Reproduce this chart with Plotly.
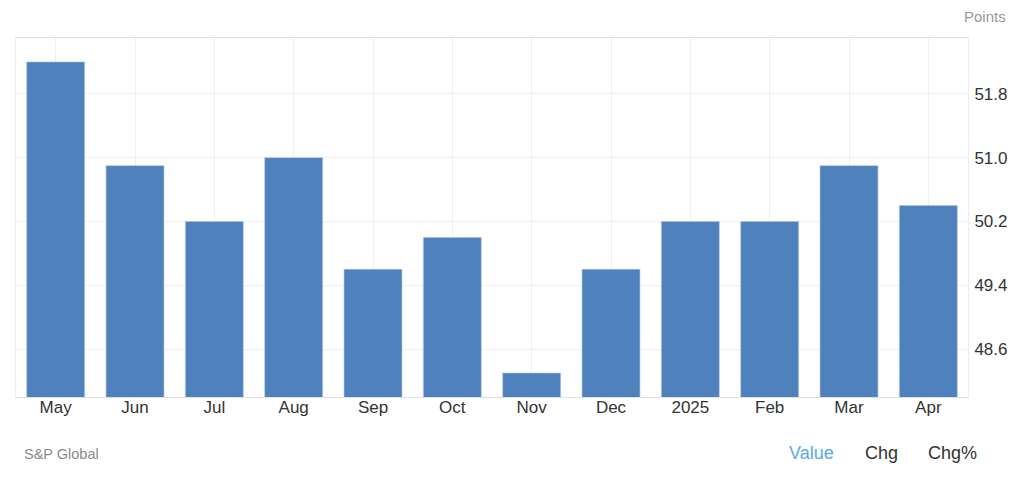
import plotly.graph_objects as go

categories = ["May", "Jun", "Jul", "Aug", "Sep", "Oct", "Nov", "Dec", "2025", "Feb", "Mar", "Apr"]
values = [52.2, 50.9, 50.2, 51.0, 49.6, 50.0, 48.3, 49.6, 50.2, 50.2, 50.9, 50.4]
y_ticks = [48.6, 49.4, 50.2, 51.0, 51.8]
y_range = [48.0, 52.5]

# page has an 8px body margin; figure origin sits at (8, 8)
OFF = 8
W, H = 1024 - OFF, 482 - OFF
L, R, T, B = 16 - OFF, 56, 38 - OFF, 85
pw, ph = W - L - R, H - T - B

def px(x):
    return (x - OFF - L) / pw

def py(y):
    return (H - B - (y - OFF)) / ph

fig = go.Figure()
fig.add_trace(go.Bar(
    x=categories, y=values,
    marker=dict(color="#4f81bd", line=dict(color="#a9c4e6", width=0.6)),
    hoverinfo="x+y",
))

fig.update_layout(
    width=W, height=H,
    margin=dict(l=L, r=R, t=T, b=B),
    paper_bgcolor="white", plot_bgcolor="white",
    bargap=0.27,
    showlegend=False,
    font=dict(family="Liberation Sans, Arial, sans-serif", color="#333333"),
    xaxis=dict(
        type="category",
        showgrid=True, gridcolor="#f0f0f0", gridwidth=1,
        showline=True, linecolor="#e0e0e0", linewidth=1, mirror=True,
        ticks="", ticklen=0, tickfont=dict(size=17, color="#333333"),
        ticklabelstandoff=-5,
    ),
    yaxis=dict(
        side="right",
        range=y_range,
        tickvals=y_ticks,
        ticktext=[f"{v:.1f}" for v in y_ticks],
        showgrid=True, gridcolor="#f0f0f0", gridwidth=1,
        showline=True, linecolor="#eeeeee", linewidth=1, mirror=True,
        zeroline=False,
        ticks="", ticklen=0, tickfont=dict(size=17, color="#333333"),
        ticklabelstandoff=2,
    ),
    annotations=[
        dict(text="Points", xref="paper", yref="paper", x=px(1008), y=py(16),
             xanchor="right", yanchor="middle", showarrow=False,
             font=dict(size=15, color="#999999")),
        dict(text="S&P Global", xref="paper", yref="paper", x=px(22), y=py(454),
             xanchor="left", yanchor="middle", showarrow=False,
             font=dict(size=14.5, color="#8a8a8a")),
        dict(text="Value", xref="paper", yref="paper", x=px(811), y=py(453),
             xanchor="center", yanchor="middle", showarrow=False,
             font=dict(size=18, color="#5aa7ea")),
        dict(text="Chg", xref="paper", yref="paper", x=px(881), y=py(453),
             xanchor="center", yanchor="middle", showarrow=False,
             font=dict(size=18, color="#333333")),
        dict(text="Chg%", xref="paper", yref="paper", x=px(952), y=py(453),
             xanchor="center", yanchor="middle", showarrow=False,
             font=dict(size=18, color="#333333")),
    ],
)

fig.write_html("out.html")
